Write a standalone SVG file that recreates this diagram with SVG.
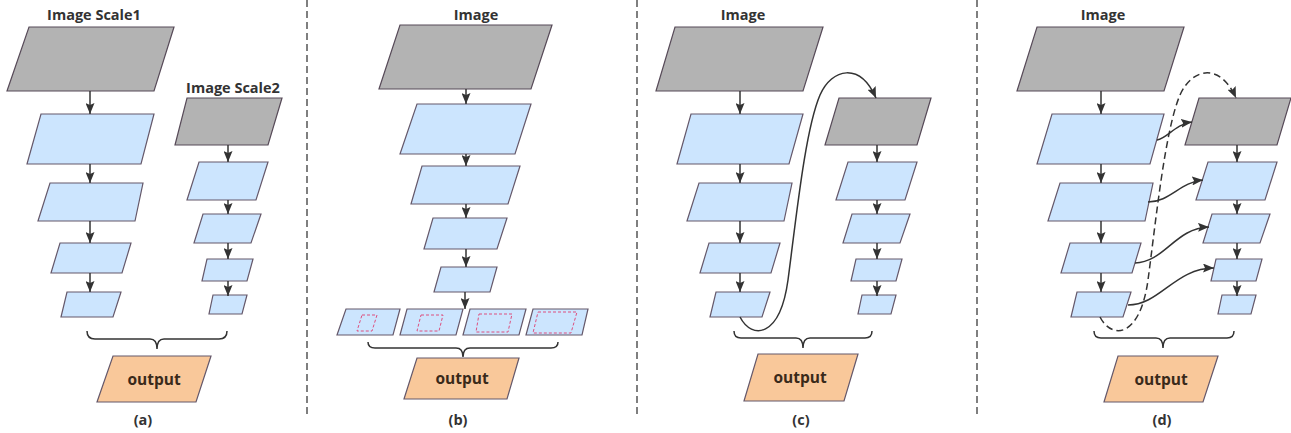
<svg xmlns="http://www.w3.org/2000/svg" width="1291" height="433" viewBox="0 0 1291 433">
  <defs>
    <marker id="arr" markerUnits="userSpaceOnUse" markerWidth="11" markerHeight="9" viewBox="0 0 11 9" refX="11" refY="4.5" orient="auto">
      <path d="M0,0 L11,4.5 L0,9 L2,4.5 z" fill="#333"/>
    </marker>
    <style>
      .img{fill:#b3b3b3;stroke:#574a58;stroke-width:1.2}
      .fm{fill:#cce5fe;stroke:#65586a;stroke-width:1.2}
      .out{fill:#f9c89a;stroke:#65586a;stroke-width:1.2}
      .roi{fill:none;stroke:#dd4f7e;stroke-width:1;stroke-dasharray:3 2}
      .lbl{font-family:"Open Sans","Noto Sans","DejaVu Sans",sans-serif;font-weight:bold;font-size:14.5px;fill:#333;text-anchor:middle}
      .ot{font-family:"Open Sans","Noto Sans","DejaVu Sans",sans-serif;font-weight:bold;font-size:15.5px;fill:#3a2a1a;text-anchor:middle}
      .cap{font-family:"Open Sans","Noto Sans","DejaVu Sans",sans-serif;font-weight:bold;font-size:14.5px;fill:#333;text-anchor:middle}
      .ln{fill:none;stroke:#333;stroke-width:1.5}
      .dl{fill:none;stroke:#333;stroke-width:1.5;stroke-dasharray:7 4}
      .br{fill:none;stroke:#333;stroke-width:1.5}
      .sep{stroke:#555;stroke-width:1.5;stroke-dasharray:7 4}
    </style>
  </defs>
  <rect width="1291" height="433" fill="#fff"/>

  <!-- panel separators -->
  <g id="separators">
    <line class="sep" x1="307" y1="0" x2="307" y2="414"/>
    <line class="sep" x1="637" y1="0" x2="637" y2="414"/>
    <line class="sep" x1="977" y1="0" x2="977" y2="414"/>
  </g>

  <!-- ===== (a) image pyramid ===== -->
  <g id="a-img1"><text class="lbl" x="94" y="20">Image Scale1</text><polygon class="img" points="29,27 174,27 154,91 7,91"/></g>
  <g id="a-f1"><polygon class="fm" points="41,114 154,114 141,164 27,164"/></g>
  <g id="a-f2"><polygon class="fm" points="50,183 143,183 135,221 38,221"/></g>
  <g id="a-f3"><polygon class="fm" points="60,243 131,243 122,273 51,273"/></g>
  <g id="a-f4"><polygon class="fm" points="67,292 121,292 113,317 61,317"/></g>
  <g id="a-img2"><text class="lbl" x="233" y="93">Image Scale2</text><polygon class="img" points="187,98 282,98 268,145 175,145"/></g>
  <g id="a-g1"><polygon class="fm" points="199,162 268,162 256,200 187,200"/></g>
  <g id="a-g2"><polygon class="fm" points="203,214 261,214 251,243 194,243"/></g>
  <g id="a-g3"><polygon class="fm" points="207,259 253,259 247,281 202,281"/></g>
  <g id="a-g4"><polygon class="fm" points="213,295 247,295 242,314 209,314"/></g>
  <g id="a-out"><polygon class="out" points="113,356 211,356 196,402 97,402"/><text class="ot" x="154" y="385">output</text></g>
  <text class="cap" x="143" y="425">(a)</text>

  <!-- ===== (b) single feature map, multiple windows ===== -->
  <g id="b-img"><text class="lbl" x="476" y="20">Image</text><polygon class="img" points="400,25 552,25 531,89 379,89"/></g>
  <g id="b-f1"><polygon class="fm" points="417,104 531,104 515,154 400,154"/></g>
  <g id="b-f2"><polygon class="fm" points="422,166 520,166 508,204 411,204"/></g>
  <g id="b-f3"><polygon class="fm" points="433,218 507,218 497,249 424,249"/></g>
  <g id="b-f4"><polygon class="fm" points="441,267 497,267 490,292 434,292"/></g>
  <g id="b-r1"><polygon class="fm" points="346,309 400,309 393,335 337,335"/><polygon class="roi" points="362,315 377,315 372,331 357,331"/></g>
  <g id="b-r2"><polygon class="fm" points="407,309 463,309 456,335 400,335"/><polygon class="roi" points="421,315 443,315 439,331 417,331"/></g>
  <g id="b-r3"><polygon class="fm" points="470,309 526,309 519,335 463,335"/><polygon class="roi" points="479,314 512,314 508,332 476,332"/></g>
  <g id="b-r4"><polygon class="fm" points="533,309 588,309 582,335 526,335"/><polygon class="roi" points="538,312 577,312 571,333 533,333"/></g>
  <g id="b-out"><polygon class="out" points="417,358 519,358 507,399 404,399"/><text class="ot" x="462" y="384">output</text></g>
  <text class="cap" x="458" y="425">(b)</text>

  <!-- ===== (c) feature pyramid fed back ===== -->
  <g id="c-img1"><text class="lbl" x="743" y="20">Image</text><polygon class="img" points="675,27 823,27 803,91 656,91"/></g>
  <g id="c-f1"><polygon class="fm" points="691,114 803,114 789,164 677,164"/></g>
  <g id="c-f2"><polygon class="fm" points="699,183 792,183 784,221 687,221"/></g>
  <g id="c-f3"><polygon class="fm" points="709,243 780,243 771,273 700,273"/></g>
  <g id="c-f4"><polygon class="fm" points="716,292 770,292 762,317 710,317"/></g>
  <g id="c-img2"><polygon class="img" points="839,98 931,98 917,145 825,145"/></g>
  <g id="c-g1"><polygon class="fm" points="848,162 917,162 905,200 836,200"/></g>
  <g id="c-g2"><polygon class="fm" points="852,214 910,214 900,243 843,243"/></g>
  <g id="c-g3"><polygon class="fm" points="856,259 902,259 896,281 851,281"/></g>
  <g id="c-g4"><polygon class="fm" points="862,295 896,295 891,314 858,314"/></g>
  <g id="c-out"><polygon class="out" points="758,354 858,354 844,401 744,401"/><text class="ot" x="800" y="383">output</text></g>
  <text class="cap" x="801" y="425">(c)</text>

  <!-- ===== (d) cross-level connections ===== -->
  <g id="d-img1"><text class="lbl" x="1103" y="20">Image</text><polygon class="img" points="1037,27 1184,27 1164,91 1017,91"/></g>
  <g id="d-f1"><polygon class="fm" points="1052,114 1164,114 1150,164 1037,164"/></g>
  <g id="d-f2"><polygon class="fm" points="1060,183 1153,183 1145,221 1048,221"/></g>
  <g id="d-f3"><polygon class="fm" points="1070,243 1141,243 1132,273 1061,273"/></g>
  <g id="d-f4"><polygon class="fm" points="1077,292 1131,292 1123,317 1071,317"/></g>
  <g id="d-img2"><polygon class="img" points="1199,98 1291,98 1277,145 1185,145"/></g>
  <g id="d-g1"><polygon class="fm" points="1208,162 1277,162 1265,200 1196,200"/></g>
  <g id="d-g2"><polygon class="fm" points="1212,214 1270,214 1260,243 1203,243"/></g>
  <g id="d-g3"><polygon class="fm" points="1216,259 1262,259 1256,281 1211,281"/></g>
  <g id="d-g4"><polygon class="fm" points="1222,295 1256,295 1251,314 1218,314"/></g>
  <g id="d-out"><polygon class="out" points="1118,356 1218,356 1203,402 1104,402"/><text class="ot" x="1161" y="385">output</text></g>
  <text class="cap" x="1162" y="425">(d)</text>

  <!-- connectors -->
  <g id="connectors">
    <!-- (a) -->
    <line class="ln" x1="90" y1="91" x2="90" y2="114" marker-end="url(#arr)"/>
    <line class="ln" x1="90" y1="164" x2="90" y2="183" marker-end="url(#arr)"/>
    <line class="ln" x1="90" y1="221" x2="90" y2="243" marker-end="url(#arr)"/>
    <line class="ln" x1="90" y1="273" x2="90" y2="292" marker-end="url(#arr)"/>
    <line class="ln" x1="228" y1="145" x2="228" y2="162" marker-end="url(#arr)"/>
    <line class="ln" x1="228" y1="200" x2="228" y2="214" marker-end="url(#arr)"/>
    <line class="ln" x1="228" y1="243" x2="228" y2="259" marker-end="url(#arr)"/>
    <line class="ln" x1="228" y1="281" x2="228" y2="296" marker-end="url(#arr)"/>
    <path class="br" d="M87,331 Q87,339 95,339 H150 Q157,339 157,349 Q157,339 164,339 H219 Q227,339 227,331"/>
    <!-- (b) -->
    <line class="ln" x1="466" y1="89" x2="466" y2="104" marker-end="url(#arr)"/>
    <line class="ln" x1="466" y1="154" x2="466" y2="166" marker-end="url(#arr)"/>
    <line class="ln" x1="466" y1="204" x2="466" y2="218" marker-end="url(#arr)"/>
    <line class="ln" x1="466" y1="249" x2="466" y2="267" marker-end="url(#arr)"/>
    <line class="ln" x1="465" y1="292" x2="465" y2="309" marker-end="url(#arr)"/>
    <path class="br" d="M368,342 Q368,348 375,348 H456 Q463,348 463,357 Q463,348 470,348 H551 Q558,348 558,342"/>
    <!-- (c) -->
    <line class="ln" x1="740" y1="91" x2="740" y2="114" marker-end="url(#arr)"/>
    <line class="ln" x1="740" y1="164" x2="740" y2="183" marker-end="url(#arr)"/>
    <line class="ln" x1="740" y1="221" x2="740" y2="243" marker-end="url(#arr)"/>
    <line class="ln" x1="740" y1="273" x2="740" y2="292" marker-end="url(#arr)"/>
    <line class="ln" x1="877" y1="145" x2="877" y2="162" marker-end="url(#arr)"/>
    <line class="ln" x1="877" y1="200" x2="877" y2="214" marker-end="url(#arr)"/>
    <line class="ln" x1="877" y1="243" x2="877" y2="259" marker-end="url(#arr)"/>
    <line class="ln" x1="877" y1="281" x2="877" y2="296" marker-end="url(#arr)"/>
    <path class="ln" d="M740,317 C752,340 780,338 788,280 C796,220 805,130 820,95 C832,68 860,62 876,98" marker-end="url(#arr)"/>
    <path class="br" d="M734,331 Q734,338 741,338 H796 Q803,338 803,348 Q803,338 810,338 H865 Q872,338 872,331"/>
    <!-- (d) -->
    <line class="ln" x1="1101" y1="91" x2="1101" y2="114" marker-end="url(#arr)"/>
    <line class="ln" x1="1101" y1="164" x2="1101" y2="183" marker-end="url(#arr)"/>
    <line class="ln" x1="1101" y1="221" x2="1101" y2="243" marker-end="url(#arr)"/>
    <line class="ln" x1="1101" y1="273" x2="1101" y2="292" marker-end="url(#arr)"/>
    <line class="ln" x1="1237" y1="145" x2="1237" y2="162" marker-end="url(#arr)"/>
    <line class="ln" x1="1237" y1="200" x2="1237" y2="214" marker-end="url(#arr)"/>
    <line class="ln" x1="1237" y1="243" x2="1237" y2="259" marker-end="url(#arr)"/>
    <line class="ln" x1="1237" y1="281" x2="1237" y2="296" marker-end="url(#arr)"/>
    <path class="dl" d="M1100,317 C1112,340 1140,338 1148,280 C1156,220 1165,130 1180,95 C1192,68 1220,62 1236,98" marker-end="url(#arr)"/>
    <path class="ln" d="M1157,140 C1168,138 1175,124 1192,122" marker-end="url(#arr)"/>
    <path class="ln" d="M1148,202 C1170,202 1180,182 1203,180" marker-end="url(#arr)"/>
    <path class="ln" d="M1135,263 C1165,262 1175,228 1209,227" marker-end="url(#arr)"/>
    <path class="ln" d="M1128,305 C1160,305 1175,268 1214,268" marker-end="url(#arr)"/>
    <path class="br" d="M1094,331 Q1094,338 1101,338 H1156 Q1163,338 1163,348 Q1163,338 1170,338 H1227 Q1234,338 1234,331"/>
  </g>
</svg>
